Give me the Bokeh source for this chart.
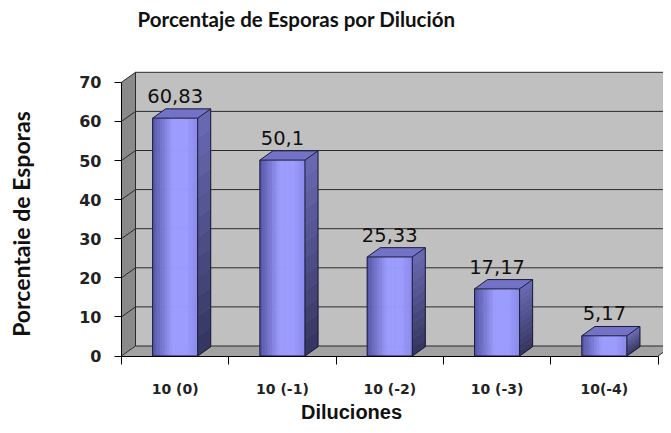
import numpy as np
from bokeh.plotting import figure
from bokeh.models import ColumnDataSource, FixedTicker, LabelSet, Label, Range1d
from bokeh.core.properties import value
from bokeh.embed import file_html
from bokeh.resources import INLINE

# ---------------- data ----------------
categories = ["10 (0)", "10 (-1)", "10 (-2)", "10 (-3)", "10(-4)"]
values = [60.83, 50.1, 25.33, 17.17, 5.17]
value_labels = ["60,83", "50,1", "25,33", "17,17", "5,17"]
y_ticks = [0, 10, 20, 30, 40, 50, 60, 70]

TITLE = "Porcentaje de Esporas por Dilución"
Y_LABEL = "Porcentaie de Esporas"
X_LABEL = "Diluciones"

# ---------------- layout (pixel geometry) ----------------
W, H = 663, 425
AX_X, AX_Y = 121, 355.5     # canvas position of the (0, 0) corner
PX_X = 107.3                # px per category
PX_Y = 3.91                 # px per unit
x0r = -AX_X / PX_X
x1r = x0r + W / PX_X
y0r = -(H - AX_Y) / PX_Y
y1r = y0r + H / PX_Y
YMAX = y_ticks[-1]
NC = len(categories)

DX = 14 / PX_X
DY = 10 / PX_Y
F1 = 0.93
BDX, BDY = F1 * DX, F1 * DY
HW = 0.21

def px_x(px):
    return (px - AX_X) / PX_X

def px_y(py):
    return (AX_Y - py) / PX_Y

p = figure(width=W, height=H, output_backend="svg", toolbar_location=None,
           x_range=Range1d(x0r, x1r), y_range=Range1d(y0r, y1r),
           min_border=0, outline_line_color=None)
p.grid.visible = False
p.background_fill_color = "white"
p.border_fill_color = "white"

# walls
p.patch([0, DX, DX, 0], [0, DY, YMAX + DY, YMAX], fill_color="#8a8a8a", line_color=None)
p.quad(left=[DX], right=[NC + DX], bottom=[DY], top=[YMAX + DY], fill_color="#c0c0c0", line_color=None)
p.patch([0, NC, NC + DX, DX], [0, 0, DY, DY], fill_color="#a2a2a2", line_color=None)

# gridlines
gx, gy = [], []
for v in y_ticks:
    gx.append([0, DX, NC + DX]); gy.append([v, v + DY, v + DY])
gx.append([DX, DX]); gy.append([DY, YMAX + DY])
gx.append([NC, NC + DX]); gy.append([0, DY])
p.multi_line(gx, gy, line_color="#2a2a2a", line_width=1)

def lerp(c1, c2, t):
    a = [int(c1[i:i + 2], 16) for i in (1, 3, 5)]
    b = [int(c2[i:i + 2], 16) for i in (1, 3, 5)]
    return "#%02x%02x%02x" % tuple(int(round(a[k] + (b[k] - a[k]) * t)) for k in range(3))

NS = 18
fl, fr, fb_, ft_, fcol = [], [], [], [], []
sxs, sys_, scol = [], [], []
txs, tys = [], []
oxs, oys = [], []
for i, v in enumerate(values):
    c = i + 0.5
    x0, x1 = c - HW, c + HW
    for k in range(NS):
        t = (k + 0.5) / NS
        if t < 0.45:
            col = lerp("#5454a4", "#9c9cff", t / 0.45)
        elif t < 0.75:
            col = "#9c9cff"
        else:
            col = lerp("#9c9cff", "#8a8aec", (t - 0.75) / 0.25)
        fl.append(x0 + (x1 - x0) * k / NS)
        fr.append(x0 + (x1 - x0) * (k + 1) / NS)
        fb_.append(0); ft_.append(v); fcol.append(col)
    M = 12
    for j in range(M):
        ya = v * j / M
        yb = v * (j + 1) / M
        t = (j + 0.5) / M
        sxs.append([x1, x1 + BDX, x1 + BDX, x1])
        sys_.append([ya, ya + BDY, yb + BDY, yb])
        scol.append(lerp("#34345e", "#6a6ab4", t))
    txs.append([x0, x1, x1 + BDX, x0 + BDX])
    tys.append([v, v, v + BDY, v + BDY])
    oxs += [[x0, x1, x1, x0, x0], [x1, x1 + BDX, x1 + BDX, x1], [x0, x0 + BDX, x1 + BDX]]
    oys += [[0, 0, v, v, 0], [0, BDY, v + BDY, v], [v, v + BDY, v + BDY]]

p.quad(left=fl, right=fr, bottom=fb_, top=ft_, fill_color=fcol, line_color=fcol, line_width=0.6)
p.patches(sxs, sys_, fill_color=scol, line_color=scol, line_width=0.6)
p.patches(txs, tys, fill_color="#7272c6", line_color=None)
p.multi_line(oxs, oys, line_color="#1c1c3a", line_width=1)

# value labels
lab_src = ColumnDataSource(dict(x=[i + 0.5 for i in range(NC)],
                                y=[v + BDY for v in values], t=value_labels))
p.add_layout(LabelSet(x="x", y="y", text="t", source=lab_src, text_align="center",
                      text_baseline="alphabetic", y_offset=6, text_font=value("DejaVu Sans"),
                      text_font_size=value("19.5px"), text_color="#111111"))

# axes (placed inside the full-canvas frame)
xa = p.xaxis[0]
xa.fixed_location = 0
xa.ticker = FixedTicker(ticks=[i + 0.5 for i in range(NC)], minor_ticks=list(range(NC + 1)))
xa.major_label_overrides = {i + 0.5: s for i, s in enumerate(categories)}
xa.major_tick_out = 0; xa.major_tick_in = 0
xa.minor_tick_out = 8; xa.minor_tick_in = 0
xa.minor_tick_line_color = "black"
xa.major_label_standoff = 17
xa.major_label_text_font = "DejaVu Sans"
xa.major_label_text_font_style = "bold"
xa.major_label_text_font_size = "14px"
xa.major_label_text_color = "#222222"
xa.axis_line_color = "black"
xa.bounds = (0, NC)

ya_ = p.yaxis[0]
ya_.fixed_location = 0
ya_.ticker = FixedTicker(ticks=y_ticks)
ya_.major_tick_out = 7; ya_.major_tick_in = 0
ya_.minor_tick_line_color = None
ya_.major_label_standoff = 13
ya_.major_label_text_font = "DejaVu Sans"
ya_.major_label_text_font_style = "bold"
ya_.major_label_text_font_size = "16px"
ya_.major_label_text_color = "#222222"
ya_.axis_line_color = "black"
ya_.bounds = (0, YMAX)

# titles as labels
p.add_layout(Label(x=px_x(296), y=px_y(18), text=TITLE,
                   text_align="center", text_baseline="middle", text_font="Lato",
                   text_font_style="bold", text_font_size="20.5px", text_color="#111111"))
p.add_layout(Label(x=px_x(351), y=px_y(411), text=X_LABEL,
                   text_align="center", text_baseline="middle", text_font="Liberation Sans",
                   text_font_style="bold", text_font_size="20px", text_color="#111111"))
p.add_layout(Label(x=px_x(20), y=px_y(223.5), text=Y_LABEL, angle=np.pi / 2,
                   text_align="center", text_baseline="middle", text_font="Lato",
                   text_font_style="bold", text_font_size="23px", text_color="#111111"))

open("out.html", "w").write(file_html(p, INLINE))
